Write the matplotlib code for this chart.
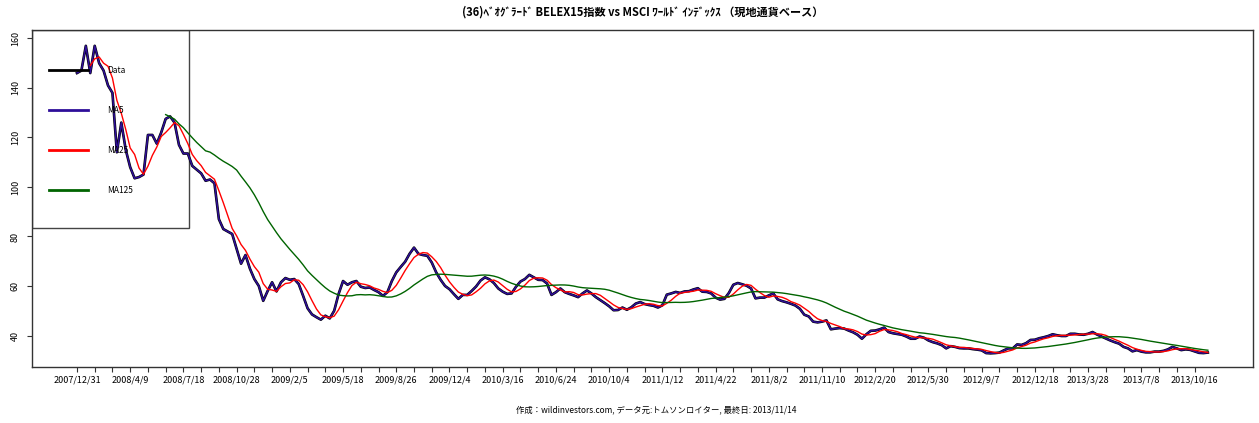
import numpy as np
import pandas as pd
import matplotlib
matplotlib.use("Agg")
import matplotlib.pyplot as plt
from matplotlib.patches import Rectangle

plt.rcParams['font.family'] = ['Noto Sans CJK JP', 'DejaVu Sans']

# BELEX15 (local currency), one reading every 6 trading days from 2007/12/31
step = 6
belex = [
    146, 147, 157, 146, 157, 150, 147, 141, 138, 114,
    126, 115, 108, 103.5, 104, 105, 121, 121, 117.5, 122,
    127.5, 128.5, 126, 117, 113.5, 113.5, 108.5, 107, 105.5, 102.5,
    103, 101.5, 87, 83, 82, 81, 75, 69, 72.5, 67,
    62.8, 60, 54, 58, 61.5, 57.8, 61.5, 63.2, 62.5, 62.8,
    60.8, 56, 51, 48.5, 47.4, 46.4, 48, 46.9, 50, 56.8,
    62, 60.5, 61.5, 62, 59.7, 59.2, 59.4, 58.4, 57.5, 56,
    57.5, 62, 65.5, 67.7, 69.8, 73, 75.5, 73, 72.5, 72.2,
    69.5, 65.5, 62.5, 60, 58.7, 56.7, 54.8, 56.4, 56.4, 58,
    59.8, 62.2, 63.5, 62.7, 61.2, 59, 57.7, 56.8, 57, 59.7,
    61.8, 62.8, 64.5, 63.5, 62.5, 62.4, 61, 56.4, 57.5, 59,
    57.5, 56.8, 56.2, 55.5, 57, 58.2, 57, 55.5, 54.3, 53.1,
    51.8, 50.2, 50.3, 51.3, 50.4, 51.4, 52.9, 53.5, 52.7, 52.3,
    52, 51.3, 52.2, 56.5, 57, 57.6, 57.2, 57.8, 57.9, 58.6,
    59.1, 57.7, 57.6, 57, 55.3, 54.5, 54.8, 57.2, 60.5, 61.2,
    60.7, 60.1, 59, 55, 55.3, 55.3, 56.2, 57, 54.6, 53.9,
    53.4, 52.8, 52.1, 50.8, 48.4, 47.7, 45.6, 45.3, 45.6, 46.1,
    42.5, 42.8, 43, 42.8, 42, 41.3, 40.3, 38.7, 40.5, 41.9,
    42, 42.5, 43.2, 41.4, 40.9, 40.6, 40.3, 39.6, 38.7, 38.7,
    39.6, 39.1, 38, 37.3, 36.8, 36.1, 34.8, 35.7, 35.4, 34.9,
    34.8, 34.8, 34.5, 34.3, 34, 32.9, 32.8, 32.9, 33.1, 34,
    34.8, 34.8, 36.4, 36.2, 36.9, 38.2, 38.3, 38.9, 39.3, 39.8,
    40.5, 40.1, 39.8, 39.8, 40.7, 40.7, 40.4, 40.3, 40.7, 41.4,
    40.4, 39.6, 38.8, 38, 37.3, 36.7, 35.4, 34.8, 33.6, 34.1,
    33.5, 33.2, 33.2, 33.5, 33.5, 33.8, 34.4, 35.4, 34.8, 34.1,
    34.4, 34.2, 33.6, 33, 32.9, 33.1,
]

tick_dates = ["2007/12/31", "2008/4/9", "2008/7/18", "2008/10/28", "2009/2/5",
              "2009/5/18", "2009/8/26", "2009/12/4", "2010/3/16", "2010/6/24",
              "2010/10/4", "2011/1/12", "2011/4/22", "2011/8/2", "2011/11/10",
              "2012/2/20", "2012/5/30", "2012/9/7", "2012/12/18", "2013/3/28",
              "2013/7/8", "2013/10/16"]

ma_days = [5, 25, 125]
y_ticks = [40, 60, 80, 100, 120, 140, 160]

title = "(36)ﾍﾞｵｸﾞﾗｰﾄﾞ BELEX15指数 vs MSCI ﾜｰﾙﾄﾞ ｲﾝﾃﾞｯｸｽ （現地通貨ベース）"
footer = "作成：wildinvestors.com, データ元:トムソンロイター, 最終日: 2013/11/14"

idx = 1 + step * np.arange(len(belex))
s = pd.Series(belex, index=idx)
mas = [s.rolling(max(1, round(d / step))).mean() for d in ma_days]

fig = plt.figure(figsize=(12.59, 4.23), dpi=100)
ax = fig.add_axes([0.0252, 0.1331, 0.9701, 0.796])

l0, = ax.plot(idx, s.values, color="black", lw=1.9, label="Data")
l1, = ax.plot(idx, mas[0].values, color="#2E0E99", lw=1.1, label="MA5")
l2, = ax.plot(idx, mas[1].values, color="red", lw=1.0, label="MA25")
l3, = ax.plot(idx, mas[2].values, color="#006400", lw=1.0, label="MA125")

pad = 0.04 * (idx[-1] - idx[0])
ax.set_xlim(idx[0] - pad, idx[-1] + pad)
ax.set_ylim(27.4, 163.4)

ticks = np.arange(1, idx[-1] + 1, 24)
labels = [tick_dates[i // 3] if i % 3 == 0 else "" for i in range(len(ticks))]
ax.set_xticks(ticks)
ax.set_xticklabels(labels, fontsize=6.5)
ax.set_yticks(y_ticks)
ax.set_yticklabels([str(v) for v in y_ticks], fontsize=6.5, rotation=90, va="center")
ax.tick_params(axis="x", length=3.6, pad=2.5, color="#333333")
ax.tick_params(axis="y", length=3.6, pad=5, color="#333333")
for sp in ax.spines.values():
    sp.set_color("#333333")
    sp.set_linewidth(1.0)

# legend box like R's legend()
ax.add_patch(Rectangle((0, 0.412), 0.1288, 0.588, transform=ax.transAxes,
                       fill=False, edgecolor="#444444", lw=1.0, zorder=1))
leg = ax.legend(handles=[l0, l1, l2, l3], loc="upper left", frameon=False,
                bbox_to_anchor=(0.0144, 0.894), borderaxespad=0, borderpad=0,
                fontsize=6, handlelength=4.6, handletextpad=2.3, labelspacing=3.72)
for h in leg.legend_handles:
    h.set_linewidth(2.0)

fig.text(0.5102, 0.9716, title, ha="center", va="center", fontsize=8, fontweight="bold")
fig.text(0.521, 0.0307, footer, ha="center", va="center", fontsize=6)

fig.savefig("out.png", dpi=100)
